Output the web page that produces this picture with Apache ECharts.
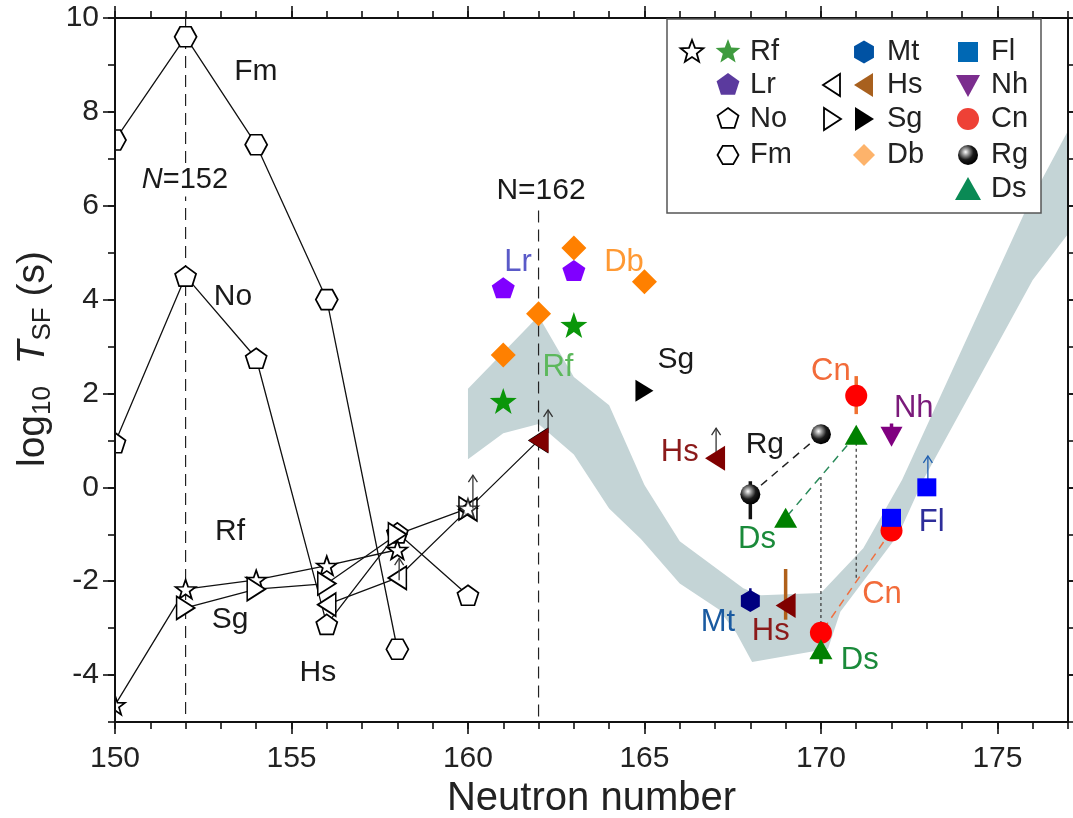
<!DOCTYPE html>
<html><head><meta charset="utf-8">
<script src="https://cdn.jsdelivr.net/npm/echarts@6/dist/echarts.min.js"></script>
<style>html,body{margin:0;padding:0;background:#fff}#c{width:1073px;height:818px}</style>
</head><body><div id="c"></div>
<script>
// ---------- axes ----------
const xMin = 150, xMax = 177, yMin = -5, yMax = 10;
const xLabelValues = [150, 155, 160, 165, 170, 175];
const xMinorValues = [150,151,152,153,154,155,156,157,158,159,160,161,162,163,164,165,166,167,168,169,170,171,172,173,174,175,176,177];
const yLabelValues = [-4, -2, 0, 2, 4, 6, 8, 10];
const yMinorValues = [-5,-4,-3,-2,-1,0,1,2,3,4,5,6,7,8,9,10];

// ---------- data (neutron number, log10 T_SF) ----------
const fm = [[150,7.4],[152,9.6],[154,7.3],[156,4.0],[158,-3.45]];
const no = [[150,0.95],[152,4.5],[154,2.75],[156,-2.92],[158,-0.97],[160,-2.3]];
const rfOpen = [[150,-4.64],[152,-2.17],[154,-1.97],[156,-1.67],[158,-1.33]];
const rfOpenLimit = [[160,-0.45]];
const sgOpen = [[152,-2.57],[154,-2.17],[156,-2.05],[158,-1.0],[160,-0.45]];
const hsOpen = [[156,-2.5],[158,-1.93],[160,-0.47],[162,1.0]];
const rfFilled = [[161,1.84],[163,3.46]];
const lr = [[161,4.25],[163,4.62]];
const db = [[161,2.82],[162,3.7],[163,5.1],[165,4.38]];
const hsFilled = [[162,1.0],[167,0.62],[169,-2.52]];
const sgFilled = [[165,2.06]];
const mt = [[168,-2.42]];
const rg = [[168,-0.15],[170,1.13]];
const ds = [[169,-0.65],[171,1.12],[170,-3.45]];
const cn = [[171,1.95],[170,-3.1],[172,-0.92]];
const nh = [[172,1.08]];
const fl = [[172,-0.65],[173,0.0]];

// theoretical band (upper edge left->right, lower edge right->left)
const bandUpper = [[160,2.1],[162,3.65],[163,2.35],[164,1.75],[165,0.05],[166,-1.15],[167.8,-2.15],[168.3,-2.3],[170.0,-2.25],[171.2,-1.3],[172.3,0.16],[175.84,5.97],[177,7.6]];
const bandLower = [[177,5.4],[176.0,4.42],[172.9,0.16],[172.2,-1.0],[170.55,-2.65],[170.2,-3.44],[168.05,-3.72],[167.6,-3.1],[167.1,-2.6],[166.0,-2.05],[164.9,-1.1],[164.0,-0.45],[163.0,0.7],[162.0,1.35],[161.0,1.15],[160,0.6]];

// lower-limit arrows [x, from, to]
const upArrows = [[158.05,-1.98,-1.51],[160.14,-0.45,0.26],[162.27,1.16,1.65],[167.03,0.72,1.26]];
const flArrows = [[173.03,0.05,0.67]];
// error bars [x, low, high]
const cnErr = [[171,1.56,2.37]];
const rgErr = [[168,-0.68,0.13]];
const mtErr = [[168,-2.42,-2.15]];
const hsErr = [[169,-2.82,-1.74]];
const dsErr = [[170,-3.76,-3.45]];
const nhErr = [[172,1.08,1.36]];
// connectors
const rgLink = [[168,-0.15],[170,1.13]];
const dsLink = [[171,1.12],[169,-0.65]];
const cnLink = [[172,-0.92],[170,-3.1]];
const dotted170 = [[170,0.22],[170,-2.95]];
const dotted171 = [[171,0.95],[171,-1.95]];
const n152Line = [[152,10],[152,-5]];
const n162Line = [[162,5.9],[162,-5]];

// annotations [text, x, y, key]
const annotations = [
  ['Fm',153.99,8.85,'k'],['No',153.34,4.06,'k'],['Rf',153.26,-0.95,'k'],['Sg',153.26,-2.83,'k'],['Hs',155.75,-3.94,'k'],
  ['N=162',162.07,6.33,'k'],['Lr',161.42,4.80,'Lr'],['Db',164.42,4.80,'Db'],['Rf',162.55,2.56,'Rf'],['Sg',165.89,2.71,'k'],
  ['Hs',166.0,0.75,'Hs'],['Rg',168.41,0.90,'k'],['Ds',168.19,-1.12,'Ds'],['Cn',170.28,2.46,'Cn'],['Nh',172.63,1.69,'Nh'],
  ['Fl',173.14,-0.74,'Fl'],['Cn',171.73,-2.29,'Cn'],['Mt',167.08,-2.87,'Mt'],['Hs',168.58,-3.08,'Hs'],['Ds',171.1,-3.68,'Ds']
];
const n152Label = [151.98, 6.55];

// ---------- styles ----------
const FONT = '"Liberation Sans", Arial, Helvetica, sans-serif';
const annColor = {k:'#1a1a1a', Lr:'#5a5ac8', Db:'#ff9933', Rf:'#5cb85c', Hs:'#8b1a1a', Ds:'#1a8a3a', Cn:'#f26b3a', Nh:'#7a1a7a', Fl:'#2e2e9a', Mt:'#1a5aa0'};
const P = {
  star: 'path://M0,-10L2.35,-3.24L9.51,-3.09L3.8,1.24L5.88,8.09L0,4L-5.88,8.09L-3.8,1.24L-9.51,-3.09L-2.35,-3.24Z',
  pent: 'path://M0,-10L9.51,-3.09L5.88,8.09L-5.88,8.09L-9.51,-3.09Z',
  hexFlat: 'path://M-10,0L-5,-8.66L5,-8.66L10,0L5,8.66L-5,8.66Z',
  hexPointy: 'path://M0,-10L8.66,-5L8.66,5L0,10L-8.66,5L-8.66,-5Z',
  triL: 'path://M0,10L20,0L20,20Z',
  triR: 'path://M0,0L20,10L0,20Z',
  triU: 'path://M10,0L20,20L0,20Z',
  triD: 'path://M0,0L20,0L10,20Z'
};

const chart = echarts.init(document.getElementById('c'), null, {renderer:'canvas'});

function xAxisDef(pos, ticks, len, withLine, withLabel) {
  return {
    type:'value', min:xMin, max:xMax, position:pos, z:20,
    axisLine:{show:withLine, onZero:false, lineStyle:{color:'#111', width:2}},
    axisTick:{show:true, inside:false, length:len, customValues:ticks, lineStyle:{color:'#111', width:1.6}},
    axisLabel:{show:withLabel, customValues:xLabelValues, fontSize:30, color:'#222', fontFamily:FONT, margin:22},
    splitLine:{show:false}, minorTick:{show:false}
  };
}
function yAxisDef(pos, ticks, len, withLine, withLabel) {
  return {
    type:'value', min:yMin, max:yMax, position:pos, z:20,
    axisLine:{show:withLine, onZero:false, lineStyle:{color:'#111', width:2}},
    axisTick:{show:true, inside:false, length:len, customValues:ticks, lineStyle:{color:'#111', width:1.6}},
    axisLabel:{show:withLabel, customValues:yLabelValues, fontSize:30, color:'#222', fontFamily:FONT, margin:16},
    splitLine:{show:false}, minorTick:{show:false}
  };
}

const xAxes = [
  Object.assign(xAxisDef('bottom', xMinorValues, 7, true, true), {
    name:'Neutron number', nameLocation:'middle', nameGap:56,
    nameTextStyle:{fontSize:40, color:'#222', fontFamily:FONT}
  }),
  xAxisDef('bottom', xLabelValues, 12, false, false),
  xAxisDef('top', xMinorValues, 7, true, false),
  xAxisDef('top', xLabelValues, 12, false, false)
];
const yAxes = [
  yAxisDef('left', yMinorValues, 7, true, true),
  yAxisDef('left', yLabelValues, 12, false, false),
  yAxisDef('right', yMinorValues, 7, true, false),
  yAxisDef('right', yLabelValues, 12, false, false)
];

function openLine(name, data, symbol, size) {
  return {name, type:'line', data, symbol, symbolSize:size, showSymbol:true, z:3,
    lineStyle:{color:'#111', width:1.3}, itemStyle:{color:'#fff', borderColor:'#000', borderWidth:1.7},
    emphasis:{disabled:true}, animation:false};
}
function filled(name, data, symbol, size, color, z) {
  return {name, type:'scatter', data, symbol, symbolSize:size, z:z||6,
    itemStyle:{color, opacity:1}, emphasis:{disabled:true}, animation:false};
}
function link(data, color, type, width) {
  return {type:'line', data, symbol:'none', z:2, lineStyle:{color, type, width}, emphasis:{disabled:true}, animation:false, silent:true};
}
function vbars(data, color, width, arrow, z) {
  return {type:'custom', data, z:z||4, silent:true, animation:false, encode:{x:0, y:[1,2]},
    renderItem(params, api) {
      const x = api.value(0);
      const p0 = api.coord([x, api.value(1)]), p1 = api.coord([x, api.value(2)]);
      const ch = [{type:'line', shape:{x1:p0[0], y1:p0[1], x2:p1[0], y2:p1[1]}, style:{stroke:color, lineWidth:width}}];
      if (arrow) ch.push({type:'polyline', shape:{points:[[p1[0]-4.5,p1[1]+7],[p1[0],p1[1]],[p1[0]+4.5,p1[1]+7]]}, style:{stroke:color, lineWidth:width, fill:null}});
      return {type:'group', children:ch};
    }};
}

const rgGrad = new echarts.graphic.RadialGradient(0.38, 0.35, 0.65, [
  {offset:0, color:'#ffffff'}, {offset:0.25, color:'#9a9a9a'}, {offset:0.6, color:'#1a1a1a'}, {offset:1, color:'#000'}]);

const series = [
  {type:'custom', data:[bandUpper[0]], z:1, silent:true, animation:false,
   renderItem(params, api) {
     const pts = bandUpper.concat(bandLower).map(p => api.coord(p));
     return {type:'polygon', shape:{points:pts}, style:{fill:'#c4d4d6'}};
   }},
  link(n152Line, '#222', [12,7], 1.2),
  link(n162Line, '#222', [12,7], 1.2),
  openLine('Fm', fm, P.hexFlat, [22,20]),
  openLine('No', no, P.pent, [21,20]),
  openLine('Rf', rfOpen, P.star, [20,19]),
  openLine('Sg', sgOpen, P.triR, [18,23]),
  openLine('Hs', hsOpen, P.triL, [18,23]),
  {name:'Rf', type:'scatter', data:rfOpenLimit, symbol:P.star, symbolSize:[20,19], z:3,
   itemStyle:{color:'#fff', borderColor:'#000', borderWidth:1.7}, emphasis:{disabled:true}, animation:false},
  link(rgLink, '#222', [8,6], 1.5),
  link(dsLink, '#2a8a5a', [8,6], 1.5),
  link(cnLink, '#f07040', [8,6], 1.5),
  link(dotted170, '#333', [3,3], 1.2),
  link(dotted171, '#333', [3,3], 1.2),
  vbars(upArrows, '#333', 1.3, true),
  vbars(flArrows, '#1f5fb0', 1.3, true),
  vbars(cnErr, '#f07030', 3.5, false),
  vbars(rgErr, '#111', 3.5, false),
  vbars(mtErr, '#000080', 2.5, false),
  vbars(hsErr, '#b0601a', 3.5, false),
  vbars(dsErr, '#008000', 3.5, false),
  vbars(nhErr, '#800080', 3.5, false),
  filled('Rf*', rfFilled, P.star, [27,26], '#0a960a'),
  filled('Lr', lr, P.pent, [23,21], '#8000ff'),
  filled('Db', db, 'diamond', [25,25], '#ff8000'),
  filled('Hs*', hsFilled, P.triL, [20,25], '#800000'),
  filled('Sg*', sgFilled, P.triR, [18,22], '#000'),
  filled('Mt', mt, P.hexPointy, [19,22], '#000080'),
  filled('Rg', rg, 'circle', 20, rgGrad),
  filled('Ds', ds, P.triU, [23,20], '#008000'),
  filled('Cn', cn, 'circle', 22, '#ff0000', 5),
  filled('Nh', nh, P.triD, [22,20], '#800080'),
  filled('Fl', fl, 'rect', [19,18], '#0000ff', 7)
];

chart.setOption({
  backgroundColor:'#fff',
  animation:false,
  grid:{left:115, right:5, top:18, bottom:96, containLabel:false, outerBoundsMode:'none'},
  xAxis:xAxes, yAxis:yAxes, series
});

// ---------- annotations ----------
const g = [];
// white margin left of the y axis: symbols sitting on the axis are cut as in the original
g.push({type:'rect', z:10, silent:true, shape:{x:0, y:0, width:114, height:818}, style:{fill:'#fff'}});
// y-axis title
g.push({type:'text', x:33, y:359, rotation:Math.PI/2, z:30, style:{
  text:'{a|log}{s|10}{a|  }{t|T}{s|SF}{a| (s)}', align:'center', verticalAlign:'middle',
  rich:{
    a:{fontSize:39, lineHeight:46, fontFamily:FONT, fill:'#222'},
    t:{fontSize:39, lineHeight:46, fontStyle:'italic', fontFamily:FONT, fill:'#222'},
    s:{fontSize:26, lineHeight:22, verticalAlign:'bottom', fontFamily:FONT, fill:'#222'}
  }}});
annotations.forEach(a => {
  const p = chart.convertToPixel({xAxisIndex:0, yAxisIndex:0}, [a[1], a[2]]);
  g.push({type:'text', x:p[0], y:p[1], z:50, style:{text:a[0], fontSize: a[3]==='k' ? 30 : 31, fontFamily:FONT, fill:annColor[a[3]], align:'center', verticalAlign:'middle'}});
});
{
  const p = chart.convertToPixel({xAxisIndex:0, yAxisIndex:0}, n152Label);
  g.push({type:'text', x:p[0], y:p[1], z:50, style:{text:'{i|N}=152', rich:{i:{fontStyle:'italic', fontSize:29, fontFamily:FONT, fill:'#1a1a1a'}}, fontSize:29, fontFamily:FONT, fill:'#1a1a1a', align:'center', verticalAlign:'middle', backgroundColor:'#fff', padding:[2,2]}});
}

// ---------- legend (decoration, pixel layout) ----------
function regPoly(cx, cy, r, n, start) { const pts=[]; for (let i=0;i<n;i++){const a=(start+360*i/n)*Math.PI/180; pts.push([cx+r*Math.cos(a), cy+r*Math.sin(a)]);} return pts; }
function starPts(cx, cy, R) { const pts=[]; for (let i=0;i<10;i++){const r=i%2?R*0.42:R; const a=(-90+36*i)*Math.PI/180; pts.push([cx+r*Math.cos(a), cy+r*Math.sin(a)]);} return pts; }
const openSt = {fill:'#fff', stroke:'#000', lineWidth:1.8};
function poly(points, style){ return {type:'polygon', z:60, shape:{points}, style}; }
function ltxt(t, x, y){ return {type:'text', x, y, z:60, style:{text:t, fontSize:29, fontFamily:FONT, fill:'#222', align:'left', verticalAlign:'middle'}}; }
const rows = [52, 85, 119, 155, 189];
const c1o = 692, c1 = 728, c1t = 750, c2o = 832, c2 = 864, c2t = 887, c3 = 968, c3t = 991;
g.push({type:'rect', z:55, shape:{x:667, y:19, width:374, height:194}, style:{fill:'#fff', stroke:'#555', lineWidth:1.5}});
// col 1
g.push(poly(starPts(c1o, rows[0], 12), openSt));
g.push(poly(starPts(c1, rows[0], 13), {fill:'#3f9b3f'}));
g.push(ltxt('Rf', c1t, rows[0]));
g.push(poly(regPoly(c1, rows[1], 12, 5, -90), {fill:'#5b3a9e'}));
g.push(ltxt('Lr', c1t, rows[1]));
g.push(poly(regPoly(c1, rows[2], 11, 5, -90), openSt));
g.push(ltxt('No', c1t, rows[2]));
g.push(poly(regPoly(c1, rows[3], 10.5, 6, 0), openSt));
g.push(ltxt('Fm', c1t, rows[3]));
// col 2
g.push(poly(regPoly(c2, rows[0], 11.5, 6, -90), {fill:'#0052a3'}));
g.push(ltxt('Mt', c2t, rows[0]));
g.push(poly([[c2o-9,rows[1]],[c2o+8,rows[1]-11],[c2o+8,rows[1]+11]], openSt));
g.push(poly([[c2-10,rows[1]],[c2+9,rows[1]-12],[c2+9,rows[1]+12]], {fill:'#a8601e'}));
g.push(ltxt('Hs', c2t, rows[1]));
g.push(poly([[c2o+9,rows[2]],[c2o-8,rows[2]-11],[c2o-8,rows[2]+11]], openSt));
g.push(poly([[c2+10,rows[2]],[c2-9,rows[2]-12],[c2-9,rows[2]+12]], {fill:'#000'}));
g.push(ltxt('Sg', c2t, rows[2]));
g.push(poly([[c2,rows[3]-11],[c2+11,rows[3]],[c2,rows[3]+11],[c2-11,rows[3]]], {fill:'#fdb36b'}));
g.push(ltxt('Db', c2t, rows[3]));
// col 3
g.push({type:'rect', z:60, shape:{x:c3-10, y:rows[0]-10, width:20, height:20}, style:{fill:'#0068b4'}});
g.push(ltxt('Fl', c3t, rows[0]));
g.push(poly([[c3-12,rows[1]-10],[c3+12,rows[1]-10],[c3,rows[1]+12]], {fill:'#7b2d8e'}));
g.push(ltxt('Nh', c3t, rows[1]));
g.push({type:'circle', z:60, shape:{cx:c3, cy:rows[2], r:11}, style:{fill:'#ee4136'}});
g.push(ltxt('Cn', c3t, rows[2]));
g.push({type:'circle', z:60, shape:{cx:c3, cy:rows[3], r:10}, style:{fill:rgGrad}});
g.push(ltxt('Rg', c3t, rows[3]));
g.push(poly([[c3,rows[4]-12],[c3+13,rows[4]+11],[c3-13,rows[4]+11]], {fill:'#0a8a55'}));
g.push(ltxt('Ds', c3t, rows[4]));

chart.setOption({graphic:{elements:g}});
</script>
</body></html>
